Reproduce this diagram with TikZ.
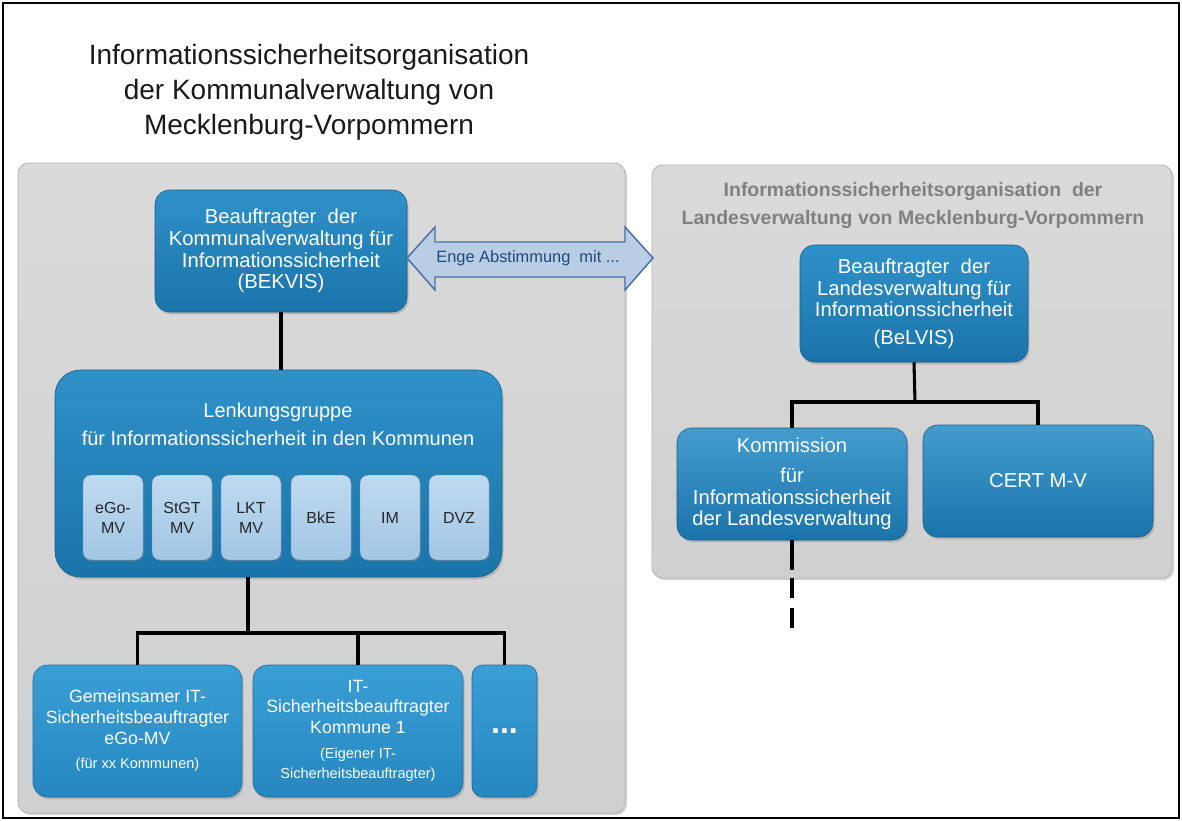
\documentclass[tikz,border=0pt]{standalone}
\usepackage{fontspec}
\setmainfont{Liberation Sans}
\usetikzlibrary{shadows,calc}
\definecolor{panelfill}{HTML}{D0D0D0}
\definecolor{paneltop}{HTML}{DADADA}
\definecolor{panelline}{HTML}{B4B4B4}
\definecolor{bluetop}{HTML}{2F91C9}
\definecolor{bluebot}{HTML}{1A74AA}
\definecolor{lbluetop}{HTML}{3A9FD6}
\definecolor{lbluebot}{HTML}{2687C0}
\definecolor{pbluetop}{HTML}{BFDAF0}
\definecolor{pbluebot}{HTML}{A2C6E4}
\definecolor{arrowfill}{HTML}{B9CDE5}
\definecolor{arrowline}{HTML}{4A6FA5}
\definecolor{arrowtext}{HTML}{1F497D}
\definecolor{titlegray}{HTML}{808080}
\definecolor{titleblack}{HTML}{1A1A1A}
\tikzset{
  panel/.style={draw=panelline, line width=0.6pt, top color=paneltop, bottom color=panelfill, rounded corners=8pt,
    drop shadow={opacity=0.35, shadow xshift=1.5pt, shadow yshift=-1.5pt}},
  bluebox/.style={rectangle, inner sep=0pt, align=center, text=white, top color=bluetop, bottom color=bluebot,
    draw=bluebot!80!black, line width=0.4pt,
    drop shadow={opacity=0.35, shadow xshift=1.2pt, shadow yshift=-1.8pt},
    font=\fontsize{15.2}{16.3}\selectfont},
  lbluebox/.style={bluebox, top color=lbluetop, bottom color=lbluebot, draw=lbluebot!80!black,
    font=\fontsize{13.3}{15.5}\selectfont},
  member/.style={rectangle, inner sep=0pt, align=center, text=black!85, top color=pbluetop, bottom color=pbluebot,
    draw=pbluebot!70!black, line width=0.3pt, rounded corners=6pt, minimum width=45pt, minimum height=63.75pt,
    drop shadow={opacity=0.3, shadow xshift=1pt, shadow yshift=-1.2pt},
    font=\fontsize{12}{15}\selectfont},
  conn/.style={line width=2.3pt, black},
  smalltxt/.style={font=\fontsize{10.9}{14.5}\selectfont}
}
\begin{document}
\begin{tikzpicture}[x=0.75pt,y=-0.75pt]
\useasboundingbox (0,0) rectangle (1182,821);
\fill[white] (0,0) rectangle (1182,821);
\draw[line width=1.5pt] (3,3) rectangle (1179,818);

% title
\node[align=center, text=titleblack, font=\fontsize{21}{26.3}\selectfont] (title) at (309,92)
  {Informationssicherheitsorganisation\\der Kommunalverwaltung von\\Mecklenburg-Vorpommern};

% panels
\path[panel] (18,163) rectangle (625,813);
\path[panel] (652,165) rectangle (1172,578);
\node[align=center, text=titlegray, font=\bfseries\fontsize{14.6}{21}\selectfont] (rtitle) at (913,206)
  {Informationssicherheitsorganisation\ \ der\\Landesverwaltung von Mecklenburg-Vorpommern};

% left side
\node[bluebox, rounded corners=11pt, minimum width=189pt, minimum height=91.5pt] (bekvis) at (281,251)
  {Beauftragter\ \ der\\Kommunalverwaltung f\"ur\\Informationssicherheit\\(BEKVIS)};

\node[bluebox, rounded corners=19pt, minimum width=335.25pt, minimum height=155.25pt] (lenk) at (278.5,473.5) {};
\node[align=center, text=white, font=\fontsize{15}{21}\selectfont] (lenktext) at (278,424)
  {Lenkungsgruppe\\f\"ur Informationssicherheit in den Kommunen};

\node[member] (m1) at (113,517.5) {eGo-\\MV};
\node[member] (m2) at (182,517.5) {StGT\\MV};
\node[member] (m3) at (251,517.5) {LKT\\MV};
\node[member] (m4) at (321,517.5) {BkE};
\node[member] (m5) at (390,517.5) {IM};
\node[member] (m6) at (459,517.5) {DVZ};

\node[lbluebox, rounded corners=11pt, minimum width=156.75pt, minimum height=99pt] (ba) at (137.5,731)
  {Gemeinsamer IT-\\Sicherheitsbeauftragter\\eGo-MV\\[3pt]{\fontsize{10.9}{14.5}\selectfont (f\"ur xx Kommunen)}};
\node[lbluebox, rounded corners=11pt, minimum width=157.5pt, minimum height=99pt] (bb) at (358,731)
  {IT-\\Sicherheitsbeauftragter\\Kommune 1\\[3pt]{\fontsize{10.9}{14.5}\selectfont (Eigener IT-}\\{\fontsize{10.9}{14.5}\selectfont Sicherheitsbeauftragter)}};
\node[lbluebox, rounded corners=8pt, minimum width=48.75pt, minimum height=99pt, font=\bfseries\fontsize{24}{24}\selectfont] (bc) at (504.5,731)
  {...};

% double arrow
\filldraw[fill=arrowfill, draw=arrowline, line width=1.1pt, line join=miter]
  (407,258) -- (435,227) -- (435,242) -- (625,242) -- (625,227) -- (653,258)
  -- (625,290) -- (625,277) -- (435,277) -- (435,290) -- cycle;
\node[text=arrowtext, font=\fontsize{12.3}{14}\selectfont] (abst) at (528,258) {Enge Abstimmung\ \ mit ...};

% right side
\node[bluebox, rounded corners=11pt, minimum width=171pt, minimum height=87.75pt] (belvis) at (914,303.5)
  {Beauftragter\ \ der\\Landesverwaltung f\"ur\\Informationssicherheit\\[4pt](BeLVIS)};
\node[bluebox, top color=bluetop!90!white, rounded corners=11pt, minimum width=172.5pt, minimum height=84pt] (kom) at (792,484)
  {Kommission\\[6pt]f\"ur\\Informationssicherheit\\der Landesverwaltung};
\node[bluebox, top color=bluetop!90!white, rounded corners=11pt, minimum width=172.5pt, minimum height=84pt] (cert) at (1038,481)
  {CERT M-V};

% connectors
\draw[conn] (bekvis.south) -- (bekvis.south |- lenk.north);
\coordinate (bus) at (248,633);
\draw[conn] (bus |- lenk.south) -- (bus);
\draw[conn] (ba.north) |- (bus) -| (bc.north);
\draw[conn] (bb.north) -- (bb.north |- bus);

\coordinate (rbus) at (915,402);
\draw[conn] (belvis.south) -- (rbus);
\draw[conn] (kom.north) |- (rbus) -| (cert.north);
\coordinate (kend) at (792,628);
\draw[conn, dash pattern=on 22.5pt off 5.5pt on 15pt off 7.5pt on 16pt off 50pt] (kom.south) -- (kend);
\end{tikzpicture}
\end{document}
